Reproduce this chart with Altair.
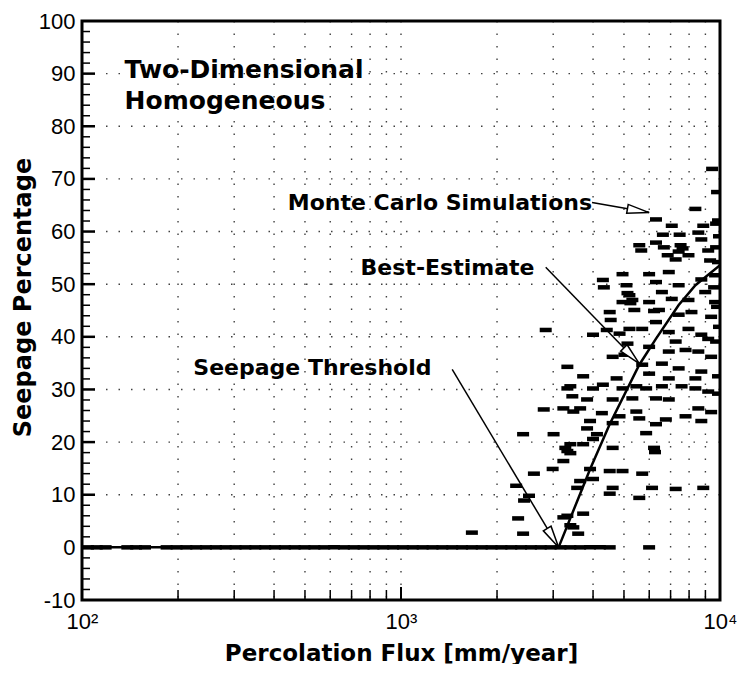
import altair as alt
import pandas as pd

# ---------------- data ----------------
# Monte Carlo realisations with non-zero seepage: percolation flux [mm/yr], seepage [%]
mc_flux = [5584, 6668, 7524, 6300, 8738, 9184, 9311, 7965, 7262, 6910,
           5995, 4948, 4294, 5091, 6300, 6575, 7420, 8738, 9651, 5200,
           4948, 5312, 5995, 7060, 7965, 8989, 9651, 4511, 6436, 7420,
           8138, 9380, 6300, 5703, 5200, 4416, 3999, 2842, 4843, 6910,
           7965, 8738, 9184, 5128, 5995, 7262, 6910, 7798, 8551, 9380,
           5019, 4608, 3323, 5703, 6575, 7420, 8372, 8738, 6910, 5995,
           3724, 4741, 4294, 3395, 3999, 4948, 5466, 5868, 6575, 7578,
           8372, 9184, 3444, 3831, 4608, 5312, 6300, 6910, 2802, 3228,
           3644, 4263, 5466, 4843, 5584, 7798, 8551, 3914, 4608, 6300,
           6765, 8738, 3831, 5868, 3008, 4114, 3395, 3724, 3999, 4608,
           6212, 3323, 3228, 2988, 3914, 4511, 4948, 5703, 3999, 3644,
           4608, 6123, 7262, 8862, 3567, 4511, 5584, 3724, 3323, 3469,
           3593, 3323, 3469, 2414, 3274, 3395, 2610, 2296, 2519, 2431,
           2329, 2414, 1668, 3228, 3395, 9447, 9789, 8372, 6300, 7060,
           8862, 9721, 6622, 7473, 8551, 9930, 5664, 7420, 6855, 4324,
           5128, 4543, 5237, 5388, 9858, 7632, 6212, 9721, 9858, 9583,
           9789, 9930, 9721, 9858, 6256, 9380, 9858]
mc_seep = [57.4, 57.0, 57.4, 57.9, 58.5, 56.4, 54.5, 55.5, 54.7, 52.3,
           51.9, 51.9, 50.8, 49.8, 50.4, 48.5, 49.8, 50.9, 51.7, 47.9,
           46.6, 47.0, 46.6, 47.2, 47.0, 48.5, 46.6, 44.7, 45.1, 44.2,
           44.7, 43.8, 42.8, 41.5, 41.5, 41.3, 40.4, 41.3, 40.6, 40.9,
           41.5, 40.4, 39.6, 38.7, 38.1, 39.1, 37.2, 37.5, 37.2, 36.2,
           36.6, 36.2, 34.3, 34.7, 34.9, 34.0, 32.1, 33.4, 32.1, 33.0,
           32.5, 32.1, 30.9, 30.6, 30.2, 30.2, 30.6, 30.2, 30.6, 30.6,
           30.2, 29.6, 28.7, 28.1, 28.1, 28.3, 28.3, 28.1, 26.2, 26.4,
           26.4, 25.5, 25.8, 24.9, 24.5, 24.9, 26.4, 24.0, 23.6, 23.4,
           24.3, 24.0, 22.6, 21.7, 21.5, 21.5, 19.6, 19.6, 20.6, 18.9,
           18.9, 18.3, 16.4, 14.9, 14.9, 14.5, 14.5, 14.0, 13.0, 12.6,
           11.3, 11.3, 11.1, 11.3, 11.3, 10.2, 9.4, 6.4, 6.0, 3.8,
           2.6, 30.2, 25.8, 21.5, 18.9, 17.9, 14.0, 11.7, 9.8, 8.9,
           5.5, 2.6, 2.8, 5.7, 4.2, 71.9, 67.5, 64.3, 62.3, 61.1,
           61.1, 61.5, 59.4, 59.4, 59.8, 59.1, 56.4, 56.2, 55.5, 49.4,
           48.3, 43.2, 46.4, 45.1, 62.1, 56.8, 44.9, 57.0, 54.2, 49.4,
           45.7, 41.9, 39.1, 32.5, 18.1, 25.7, 29.2]

# Realisations with zero seepage (percolation flux [mm/yr])
zero_flux = [104.4, 111.2, 118.6, 138.7, 147.8, 157.6, 184.2, 197.9, 212.4, 228.0,
             244.8, 262.9, 282.2, 303.1, 325.3, 349.4, 375.2, 402.6, 432.4, 464.2,
             498.3, 535.1, 574.6, 616.8, 662.3, 711.2, 763.4, 819.7, 879.9, 944.7,
             1014.3, 1088.9, 1169.4, 1255.6, 1347.9, 1447.3, 1553.9, 1668.1, 1791.0, 1923.1,
             2064.6, 2216.7, 2379.4, 2555.0, 2743.2, 2944.7, 3162.3, 3395, 3644, 3914,
             4202, 4511, 5995]

# Best-estimate curve
best_flux = [100, 3119, 3917, 4510, 5585, 6295, 7413, 8375, 10000]
best_seep = [0, 0, 14.9, 23.4, 34.7, 39.6, 46.0, 49.8, 53.6]

# Annotation texts
label_text = ["Monte Carlo Simulations", "Best-Estimate", "Seepage Threshold"]
label_flux = [441.7, 747, 223.3]
label_seep = [64.0, 51.7, 32.8]
title_text = ["Two-Dimensional", "Homogeneous"]
title_flux = [136, 136]
title_seep = [89.1, 83.2]

# Arrows (start -> tip) in data units
arrow_x0 = [3971, 2842, 1447]
arrow_y0 = [65.5, 53.2, 33.8]
arrow_x1 = [5995, 5584, 3119]
arrow_y1 = [63.6, 34.9, 0.0]
arrow_angle = [9.8, 45.6, 58.8]

# Axis furniture
x_labels = [100, 1000, 10000]
y_labels = [-10, 0, 10, 20, 30, 40, 50, 60, 70, 80, 90, 100]
x_grid = [200, 300, 400, 500, 600, 700, 800, 900, 1000,
          2000, 3000, 4000, 5000, 6000, 7000, 8000, 9000]
y_grid = [10, 20, 30, 40, 50, 60, 70, 80, 90]
x_minor = [200, 300, 400, 500, 600, 700, 800, 900,
           2000, 3000, 4000, 5000, 6000, 7000, 8000, 9000]
x_major = [1000]
y_major = [0, 10, 20, 30, 40, 50, 60, 70, 80, 90]
y_minor = [v for v in range(-8, 100, 2) if v % 10 != 0]

W, H = 638, 579

mc = pd.DataFrame({"flux": mc_flux + zero_flux,
                   "seep": mc_seep + [0.0] * len(zero_flux)})
best = pd.DataFrame({"flux": best_flux, "seep": best_seep})
labels = pd.DataFrame({"flux": label_flux, "seep": label_seep, "text": label_text})
titles = pd.DataFrame({"flux": title_flux, "seep": title_seep, "text": title_text})
arrows = pd.DataFrame({"x0": arrow_x0, "y0": arrow_y0, "x1": arrow_x1,
                       "y1": arrow_y1, "angle": arrow_angle})

xscale = alt.Scale(type="log", domain=[100, 10000], nice=False)
yscale = alt.Scale(domain=[-10, 100], nice=False, zero=False)

x_axis = alt.Axis(values=x_labels, grid=False, ticks=False, tickSize=0, domain=False,
                  labelExpr="datum.value == 100 ? '10²' : datum.value == 1000 ? '10³' : '10⁴'",
                  labelFont="Liberation Sans", labelFontSize=22, labelColor="black",
                  labelBaseline="alphabetic", labelPadding=28, labelFlush=False,
                  labelOverlap=False,
                  title="Percolation Flux [mm/year]", titleFont="DejaVu Sans",
                  titleFontWeight="bold", titleFontSize=23, titleColor="black",
                  titleBaseline="alphabetic", titleY=60)
y_axis = alt.Axis(values=y_labels, grid=False, ticks=False, tickSize=0, domain=False,
                  labelExpr="'' + datum.value",
                  labelFont="Liberation Sans", labelFontSize=22, labelColor="black",
                  labelPadding=7, labelFlush=False, labelOverlap=False,
                  title="Seepage Percentage", titleFont="DejaVu Sans",
                  titleFontWeight="bold", titleFontSize=24, titleColor="black",
                  titleBaseline="alphabetic", titleAngle=-90, titleX=-52, titleY=276)

X = lambda f: alt.X(f, type="quantitative", scale=xscale, axis=x_axis)
Y = lambda f: alt.Y(f, type="quantitative", scale=yscale, axis=y_axis)

gx = alt.Chart(pd.DataFrame({"v": x_grid})).mark_rule(
    color="black", strokeWidth=1.4, strokeDash=[1.5, 11], opacity=0.75
).encode(x=X("v"))
gy = alt.Chart(pd.DataFrame({"v": y_grid})).mark_rule(
    color="black", strokeWidth=1.4, strokeDash=[1.5, 11], opacity=0.75
).encode(y=Y("v"))

tx_minor = alt.Chart(pd.DataFrame({"v": x_minor})).mark_rule(
    color="black", strokeWidth=1.5).encode(x=X("v"), y=alt.value(H), y2=alt.value(H - 10))
tx_major = alt.Chart(pd.DataFrame({"v": x_major})).mark_rule(
    color="black", strokeWidth=2).encode(x=X("v"), y=alt.value(H), y2=alt.value(H - 13))
ty_minor = alt.Chart(pd.DataFrame({"v": y_minor})).mark_rule(
    color="black", strokeWidth=1.5).encode(y=Y("v"), x=alt.value(0), x2=alt.value(8))
ty_major = alt.Chart(pd.DataFrame({"v": y_major})).mark_rule(
    color="black", strokeWidth=2.5).encode(y=Y("v"), x=alt.value(0), x2=alt.value(13))

points = alt.Chart(mc).mark_tick(
    orient="horizontal", size=12, thickness=4.5, color="black", opacity=1, clip=True
).encode(x=X("flux"), y=Y("seep"))

line = alt.Chart(best).mark_line(color="black", strokeWidth=2.5, clip=True).encode(
    x=X("flux"), y=Y("seep"))

arrow_lines = alt.Chart(arrows).mark_rule(color="black", strokeWidth=1.5).encode(
    x=X("x0"), y=Y("y0"), x2="x1", y2="y1")
heads = alt.Chart(arrows).mark_point(
    shape="M0,0L-2.2,-0.45L-2.2,0.45Z", size=400, filled=True, fill="white",
    stroke="black", strokeWidth=1.5, opacity=1
).encode(x=X("x1"), y=Y("y1"), angle=alt.Angle("angle:Q", scale=None))

label_marks = alt.Chart(labels).mark_text(
    font="DejaVu Sans", fontWeight="bold", fontSize=22, align="left",
    baseline="alphabetic", color="black"
).encode(x=X("flux"), y=Y("seep"), text="text:N")
title_marks = alt.Chart(titles).mark_text(
    font="DejaVu Sans", fontWeight="bold", fontSize=25, align="left",
    baseline="alphabetic", color="black"
).encode(x=X("flux"), y=Y("seep"), text="text:N")

chart = alt.layer(
    gx, gy, tx_minor, tx_major, ty_minor, ty_major, points, line,
    arrow_lines, heads, label_marks, title_marks
).properties(
    width=W, height=H,
    padding={"left": 74, "top": 13, "right": 20, "bottom": 64},
    autosize=alt.AutoSizeParams(type="none"),
).configure_view(stroke="black", strokeWidth=3)

chart.save("out.html", embed_options={"renderer": "svg", "actions": False})
